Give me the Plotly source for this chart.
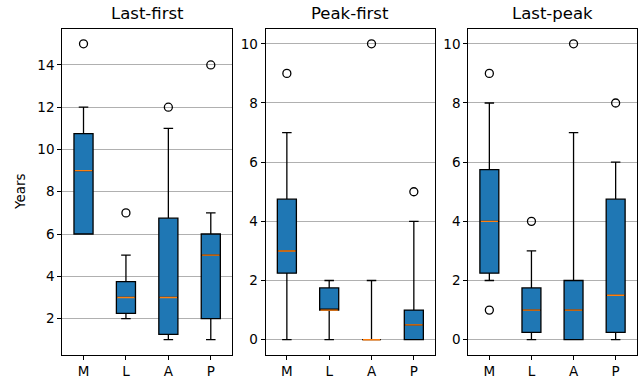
import plotly.graph_objects as go

categories = ["M", "L", "A", "P"]
panel_titles = ["Last-first", "Peak-first", "Last-peak"]

# Box statistics per panel
q1 = [[6, 2.25, 1.25, 2], [2.25, 1, 0, 0], [2.25, 0.25, 0, 0.25]]
median = [[9, 3, 3, 5], [3, 1, 0, 0.5], [4, 1, 1, 1.5]]
q3 = [[10.75, 3.75, 6.75, 6], [4.75, 1.75, 0, 1], [5.75, 1.75, 2, 4.75]]
lower_whisker = [[6, 2, 1, 1], [0, 0, 0, 0], [2, 0, 0, 0]]
upper_whisker = [[12, 5, 11, 7], [7, 2, 2, 4], [8, 3, 7, 6]]
# outliers: (category, value)
outliers = [
    [("M", 15), ("L", 7), ("A", 12), ("P", 14)],
    [("M", 9), ("A", 10), ("P", 5)],
    [("M", 9), ("M", 1), ("L", 4), ("A", 10), ("P", 8)],
]
y_ranges = [[0.3, 15.7], [-0.5, 10.5], [-0.5, 10.5]]
y_ticks = [[2, 4, 6, 8, 10, 12, 14], [0, 2, 4, 6, 8, 10], [0, 2, 4, 6, 8, 10]]

W, H = 642, 381
x_domains_px = [(62.3, 232.0), (265.7, 435.0), (468.3, 636.7)]
y_top_px, y_bot_px = 29.0, 354.5
box_width = 0.45


def px_x(s):
    return s / W


def px_y(s):
    return 1 - s / H


BLUE = "#1f77b4"
ORANGE = "#ff7f0e"
FONT = "DejaVu Sans"

fig = go.Figure()
positions = list(range(1, len(categories) + 1))
pos_of = {c: p for c, p in zip(categories, positions)}

for i in range(3):
    xa = "x" if i == 0 else f"x{i+1}"
    ya = "y" if i == 0 else f"y{i+1}"
    fig.add_trace(go.Box(
        x=positions, q1=q1[i], median=median[i], q3=q3[i],
        lowerfence=lower_whisker[i], upperfence=upper_whisker[i],
        width=box_width, whiskerwidth=0.5, fillcolor=BLUE,
        line=dict(color="black", width=1.3), boxpoints=False,
        hoverinfo="skip", showlegend=False, xaxis=xa, yaxis=ya,
    ))
    mx, my = [], []
    for p, m in zip(positions, median[i]):
        mx += [p - box_width / 2 + 0.02, p + box_width / 2 - 0.02, None]
        my += [m, m, None]
    fig.add_trace(go.Scatter(
        x=mx, y=my, mode="lines", line=dict(color=ORANGE, width=1.4),
        showlegend=False, hoverinfo="skip", xaxis=xa, yaxis=ya,
    ))
    fig.add_trace(go.Scatter(
        x=[pos_of[c] for c, v in outliers[i]], y=[v for c, v in outliers[i]],
        mode="markers",
        marker=dict(symbol="circle-open", size=8, color="black", line=dict(width=1.3)),
        showlegend=False, hoverinfo="skip", xaxis=xa, yaxis=ya,
    ))

    x0, x1 = x_domains_px[i]
    axis_common = dict(
        showline=True, mirror=True, linecolor="black", linewidth=1.1,
        ticks="outside", ticklen=4, tickwidth=1.1, tickcolor="black",
        zeroline=False, tickfont=dict(family=FONT, size=13.5, color="black"),
    )
    fig.layout[f"xaxis{'' if i == 0 else i+1}"] = dict(
        domain=[px_x(x0), px_x(x1)], range=[0.5, 4.5],
        tickvals=positions, ticktext=categories, showgrid=False,
        anchor=ya, **axis_common,
    )
    fig.layout[f"yaxis{'' if i == 0 else i+1}"] = dict(
        domain=[px_y(y_bot_px), px_y(y_top_px)], range=y_ranges[i],
        tickvals=y_ticks[i], showgrid=True, gridcolor="#b0b0b0", gridwidth=1.1,
        anchor=xa, **axis_common,
    )
    fig.add_annotation(
        text=panel_titles[i], xref="paper", yref="paper",
        x=px_x((x0 + x1) / 2), y=px_y(25), xanchor="center", yanchor="bottom",
        showarrow=False, font=dict(family=FONT, size=16.5, color="black"),
    )

fig.add_annotation(
    text="Years", xref="paper", yref="paper", x=px_x(20), y=px_y(192),
    xanchor="center", yanchor="middle", textangle=-90, showarrow=False,
    font=dict(family=FONT, size=13.5, color="black"),
)

fig.update_layout(
    width=W, height=H, margin=dict(l=0, r=0, t=0, b=0),
    paper_bgcolor="white", plot_bgcolor="white",
    font=dict(family=FONT, color="black"),
)

fig.write_html(
    "out.html",
    config={"displayModeBar": False},
    post_script="document.body.style.margin='0';document.body.style.overflow='hidden';",
)
